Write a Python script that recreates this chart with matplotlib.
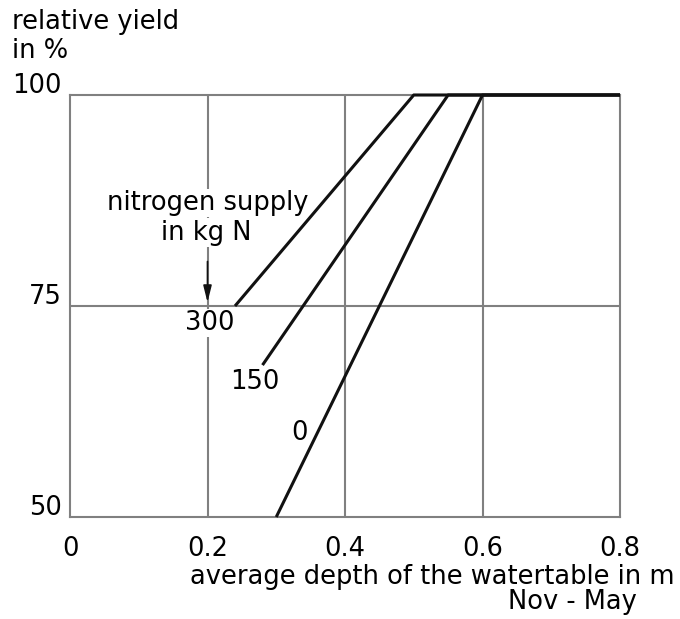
import matplotlib
matplotlib.use("Agg")
import matplotlib.pyplot as plt

plt.rcParams['font.family'] = ['DejaVu Sans']

# data
labels = ["300", "150", "0"]
depth_300 = [0.24, 0.50, 0.80]
yield_300 = [75, 100, 100]
depth_150 = [0.28, 0.55, 0.80]
yield_150 = [68, 100, 100]
depth_0 = [0.30, 0.60, 0.80]
yield_0 = [50, 100, 100]
x_ticks = [0, 0.2, 0.4, 0.6, 0.8]
x_ticklabels = ["0", "0.2", "0.4", "0.6", "0.8"]
y_ticks = [50, 75, 100]

fig = plt.figure(figsize=(6.8, 6.19), dpi=100)
ax = fig.add_axes([70/680, 1-517/619, 550/680, 422/619])
ax.set_xlim(0, 0.8)
ax.set_ylim(50, 100)

gray = "#808080"
for s in ax.spines.values():
    s.set_color(gray)
    s.set_linewidth(1.5)
for xv in x_ticks[1:-1]:
    ax.axvline(xv, color=gray, lw=1.5, zorder=1)
ax.axhline(75, color=gray, lw=1.5, zorder=1)

for xs, ys in [(depth_300, yield_300), (depth_150, yield_150), (depth_0, yield_0)]:
    ax.plot(xs, ys, color="#111111", lw=2.2, solid_capstyle="butt", zorder=5, clip_on=False)

ax.set_xticks([])
ax.set_yticks([])
fs = 18.5
for xv, lab in zip(x_ticks, x_ticklabels):
    ax.text(xv, 46.2, lab, ha="center", va="center", fontsize=fs)
for yv in y_ticks:
    ax.text(-0.012, yv + 0.2, str(yv), ha="right", va="baseline", fontsize=fs)

bbox = dict(facecolor="white", edgecolor="none", pad=1)
ax.text(0.2003, 87.2, "nitrogen supply", ha="center", va="center", fontsize=fs, bbox=bbox, zorder=4)
ax.text(0.1975, 83.7, "in kg N", ha="center", va="center", fontsize=fs, bbox=bbox, zorder=4)
ax.annotate("", xy=(0.2, 75.1), xytext=(0.2, 80.6),
            arrowprops=dict(arrowstyle="-|>,head_width=0.25,head_length=1.0", color="#111111", lw=1.2),
            zorder=4)
ax.text(0.2036, 73.0, "300", ha="center", va="center", fontsize=fs, bbox=bbox, zorder=4)
ax.text(0.269, 66.0, "150", ha="center", va="center", fontsize=fs, bbox=bbox, zorder=4)
ax.text(0.334, 59.9, "0", ha="center", va="center", fontsize=fs, zorder=4)

fig.text(12/680, 1-9/619, "relative yield\nin %", ha="left", va="top", fontsize=fs, linespacing=1.15)
fig.text(675/680, 1-584/619, "average depth of the watertable in m", ha="right", va="baseline", fontsize=fs)
fig.text(637/680, 1-609/619, "Nov - May", ha="right", va="baseline", fontsize=fs)

fig.savefig("out.png", dpi=100)
